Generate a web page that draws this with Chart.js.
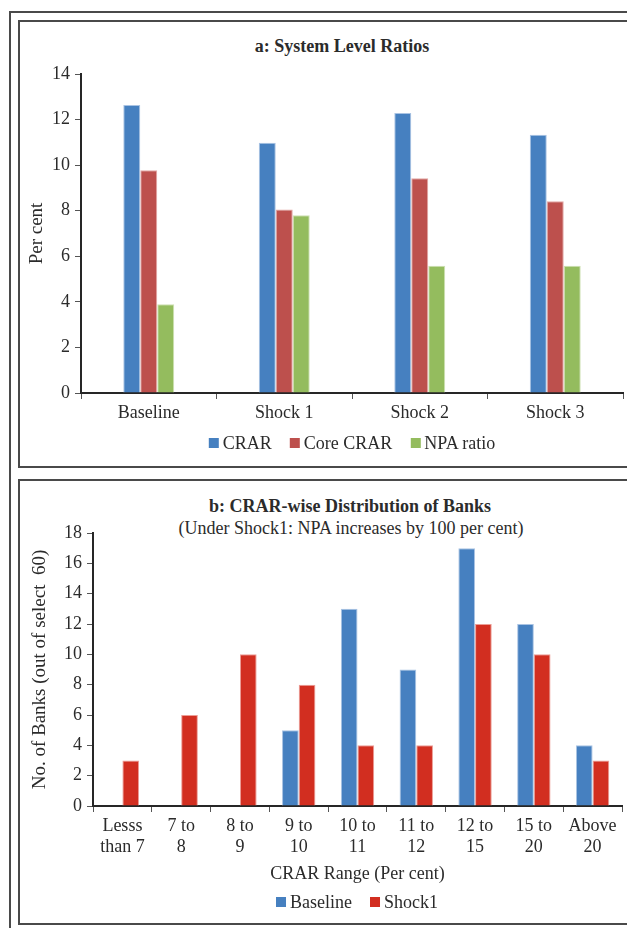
<!DOCTYPE html>
<html>
<head>
<meta charset="utf-8">
<script src="https://cdn.jsdelivr.net/npm/chart.js@4.4.1/dist/chart.umd.min.js"></script>
<style>
  html, body { margin: 0; padding: 0; background: #fff; }
  body {
    width: 627px; height: 928px; position: relative; overflow: hidden;
    font-family: "Liberation Serif", "Times New Roman", serif; color: #2b2b2b;
  }
  .frame { position: absolute; border: 2px solid #4a4a4a; box-sizing: border-box; }
  #outer  { left: 9px;  top: 11px;  width: 720px; height: 1000px; }
  #panelA { left: 18px; top: 20px;  width: 720px; height: 448px; }
  #panelB { left: 18px; top: 479px; width: 720px; height: 446px; }
  canvas { position: absolute; }
  #chartA { left: 20px; top: 22px; }
  #chartB { left: 20px; top: 482px; }
  .ttl {
    position: absolute; white-space: nowrap; line-height: 1;
    transform: translate(-50%, -50%); font-size: 18px;
  }
  .bold { font-weight: bold; }
  .legend {
    position: absolute; transform: translate(-50%, -50%);
    display: flex; align-items: center; white-space: nowrap;
    font-size: 18px; line-height: 1;
  }
  .legend .item { display: flex; align-items: center; margin: 0 9px; }
  .legend .sw { display: inline-block; width: 10px; height: 10px; margin-right: 4px; }
</style>
</head>
<body>
<div class="frame" id="outer"></div>
<div class="frame" id="panelA"></div>
<div class="frame" id="panelB"></div>

<div class="ttl bold" style="left:342px; top:46px;">a: System Level Ratios</div>
<canvas id="chartA" width="607" height="443" style="width:607px;height:443px;"></canvas>
<div class="legend" id="legendA" style="left:352px; top:443px;"></div>

<div class="ttl bold" style="left:350px; top:506px;">b: CRAR-wise Distribution of Banks</div>
<div class="ttl" style="left:351px; top:528px;">(Under Shock1: NPA increases by 100 per cent)</div>
<canvas id="chartB" width="607" height="440" style="width:607px;height:440px;"></canvas>
<div class="legend" id="legendB" style="left:357px; top:902px;"></div>

<script>
// Panel a: system level ratios (per cent)
const scenarios = ['Baseline', 'Shock 1', 'Shock 2', 'Shock 3'];
const crar      = [12.64, 10.98, 12.29, 11.33];
const coreCrar  = [9.78, 8.05, 9.43, 8.42];
const npaRatio  = [3.89, 7.80, 5.58, 5.58];
const ratioTicks = [0, 2, 4, 6, 8, 10, 12, 14];

// Panel b: number of banks by CRAR range
const crarRanges = [
  ['Lesss', 'than 7'], ['7 to', '8'], ['8 to', '9'], ['9 to', '10'],
  ['10 to', '11'], ['11 to', '12'], ['12 to', '15'], ['15 to', '20'], ['Above', '20']
];
const baselineBanks = [0, 0, 0, 5, 13, 9, 17, 12, 4];
const shock1Banks   = [3, 6, 10, 8, 4, 4, 12, 10, 3];
const bankTicks = [0, 2, 4, 6, 8, 10, 12, 14, 16, 18];

const FONT = '"Liberation Serif", "Times New Roman", serif';
const TEXT = '#2b2b2b';
const AXIS = '#262626';

const BLUE = '#4680c0', BLUE_EDGE = '#a9c3e3';
const BRICK = '#bd504d', BRICK_EDGE = '#e2a6a4';
const GREEN = '#94bc5e', GREEN_EDGE = '#cde0b2';
const RED = '#d22e20', RED_EDGE = '#ec9d95';

function fixedTicks(values) {
  return scale => { scale.ticks = values.map(v => ({ value: v })); };
}

function buildLegend(id, items) {
  const el = document.getElementById(id);
  items.forEach(([label, color]) => {
    const it = document.createElement('span');
    it.className = 'item';
    const sw = document.createElement('span');
    sw.className = 'sw';
    sw.style.background = color;
    it.appendChild(sw);
    it.appendChild(document.createTextNode(label));
    el.appendChild(it);
  });
}

function barSet(label, data, fill, edge) {
  return {
    label, data,
    backgroundColor: fill,
    borderColor: edge,
    borderWidth: 1,
    borderSkipped: 'start'
  };
}

function xAxis(height, extra) {
  return Object.assign({
    type: 'category',
    offset: true,
    border: { display: true, color: AXIS, width: 2 },
    grid: { display: true, offset: true, drawOnChartArea: false, drawTicks: true,
            tickLength: 6, color: '#555', lineWidth: 1 },
    ticks: { color: TEXT, font: { family: FONT, size: 18 }, padding: 3,
             maxRotation: 0, minRotation: 0, autoSkip: false },
    afterFit: s => { s.height = height; }
  }, extra || {});
}

function yAxis(width, max, ticks, title, titlePad) {
  return {
    min: 0, max: max,
    afterBuildTicks: fixedTicks(ticks),
    border: { display: true, color: AXIS, width: 2 },
    grid: { display: true, drawOnChartArea: false, drawTicks: true,
            tickLength: 6, color: '#555', lineWidth: 1 },
    ticks: { color: TEXT, font: { family: FONT, size: 18 }, padding: 5 },
    title: { display: true, text: title, color: TEXT,
             font: { family: FONT, size: 19 }, padding: { top: titlePad, bottom: 0 } },
    afterFit: s => { s.width = width; }
  };
}

const common = {
  responsive: false,
  animation: false,
  devicePixelRatio: 1,
  plugins: { legend: { display: false }, tooltip: { enabled: false }, title: { display: false } }
};

new Chart(document.getElementById('chartA'), {
  type: 'bar',
  data: {
    labels: scenarios,
    datasets: [
      barSet('CRAR', crar, BLUE, BLUE_EDGE),
      barSet('Core CRAR', coreCrar, BRICK, BRICK_EDGE),
      barSet('NPA ratio', npaRatio, GREEN, GREEN_EDGE)
    ]
  },
  options: Object.assign({}, common, {
    layout: { padding: { left: 0, right: 4, top: 52, bottom: 32 } },
    datasets: { bar: { categoryPercentage: 0.376, barPercentage: 1 } },
    scales: {
      x: xAxis(40),
      y: yAxis(61, 14, ratioTicks, 'Per cent', 6)
    }
  })
});

new Chart(document.getElementById('chartB'), {
  type: 'bar',
  data: {
    labels: crarRanges,
    datasets: [
      barSet('Baseline', baselineBanks, BLUE, BLUE_EDGE),
      barSet('Shock1', shock1Banks, RED, RED_EDGE)
    ]
  },
  options: Object.assign({}, common, {
    layout: { padding: { left: 0, right: 5, top: 51, bottom: 37 } },
    datasets: { bar: { categoryPercentage: 0.568, barPercentage: 1 } },
    scales: {
      x: xAxis(79, {
        title: { display: true, text: 'CRAR Range (Per cent)', color: TEXT,
                 font: { family: FONT, size: 18 }, padding: { top: 0, bottom: 0 } }
      }),
      y: yAxis(73, 18, bankTicks, 'No. of Banks (out of select  60)', 9)
    }
  })
});

buildLegend('legendA', [['CRAR', BLUE], ['Core CRAR', BRICK], ['NPA ratio', GREEN]]);
buildLegend('legendB', [['Baseline', BLUE], ['Shock1', RED]]);
</script>
</body>
</html>
